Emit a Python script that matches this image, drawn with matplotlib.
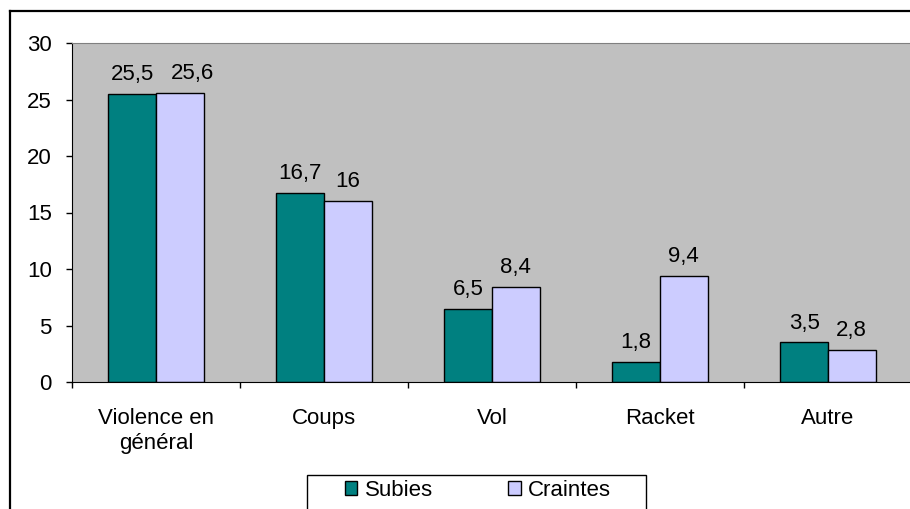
import matplotlib
matplotlib.use("Agg")
import matplotlib.pyplot as plt
import numpy as np
from matplotlib.lines import Line2D
from matplotlib.patches import Rectangle

plt.rcParams['font.family'] = ['Liberation Sans', 'DejaVu Sans']

categories = ["Violence en\ngénéral", "Coups", "Vol", "Racket", "Autre"]
subies = [25.5, 16.7, 6.5, 1.8, 3.5]
craintes = [25.6, 16, 8.4, 9.4, 2.8]
yticks = [0, 5, 10, 15, 20, 25, 30]

W, H = 910, 509
FS = 16
fig = plt.figure(figsize=(W / 100, H / 100), dpi=100)
ax = fig.add_axes([72 / W, 1 - 382 / H, 840 / W, 339 / H])
ax.set_facecolor("#C0C0C0")

x = np.arange(len(categories))
bw = 0.283
b1 = ax.bar(x - bw / 2, subies, bw, color="#008080", edgecolor="black", linewidth=1, label="Subies")
b2 = ax.bar(x + bw / 2, craintes, bw, color="#CCCCFF", edgecolor="black", linewidth=1, label="Craintes")

def fmt(v):
    s = ("%g" % v).replace(".", ",")
    return s

for k, (bars, vals) in enumerate(((b1, subies), (b2, craintes))):
    for i, (r, v) in enumerate(zip(bars, vals)):
        # Excel nudged the first "Craintes" label right so it doesn't collide
        dx = 9 if (k == 1 and i == 0) else 0
        ax.annotate(fmt(v), (r.get_x() + r.get_width() / 2, v), xytext=(dx, 10),
                    textcoords="offset points", ha="center", va="baseline", fontsize=FS)

ax.set_xlim(-0.5, len(categories) - 0.5)
ax.set_ylim(0, 30)
ax.set_yticks(yticks)
ax.tick_params(axis="y", labelsize=FS, length=4.5, width=1, pad=10, direction="out")
ax.set_xticks(x)
ax.set_xticklabels(categories, fontsize=FS, linespacing=1.2)
ax.tick_params(axis="x", which="major", length=0, pad=19)
ax.set_xticks(np.arange(len(categories)) - 0.5, minor=True)
ax.tick_params(axis="x", which="minor", length=4.5, width=1, direction="out")

ax.spines["left"].set_color("black")
ax.spines["bottom"].set_color("black")
ax.spines["top"].set_color("#808080")
ax.spines["right"].set_visible(False)

# outer chart border (cropped at right and bottom)
fig.add_artist(Line2D([10 / W, 1.0], [1 - 11 / H, 1 - 11 / H], transform=fig.transFigure, color="black", linewidth=1.6))
fig.add_artist(Line2D([10 / W, 10 / W], [0, 1 - 11 / H], transform=fig.transFigure, color="black", linewidth=1.6))

# legend box (cropped at the bottom)
fig.add_artist(Rectangle((307 / W, -0.05), 339 / W, 0.05 + 1 - 475 / H, transform=fig.transFigure,
                         facecolor="white", edgecolor="black", linewidth=1))
leg = fig.legend(handles=[b1, b2], loc="upper center", bbox_to_anchor=(478 / W, 1 - 480 / H),
                 ncol=2, fontsize=FS, frameon=False,
                 handlelength=0.55, handleheight=0.55, handletextpad=0.35, columnspacing=3.4,
                 borderpad=0, borderaxespad=0)

fig.savefig("out.png", dpi=100)
